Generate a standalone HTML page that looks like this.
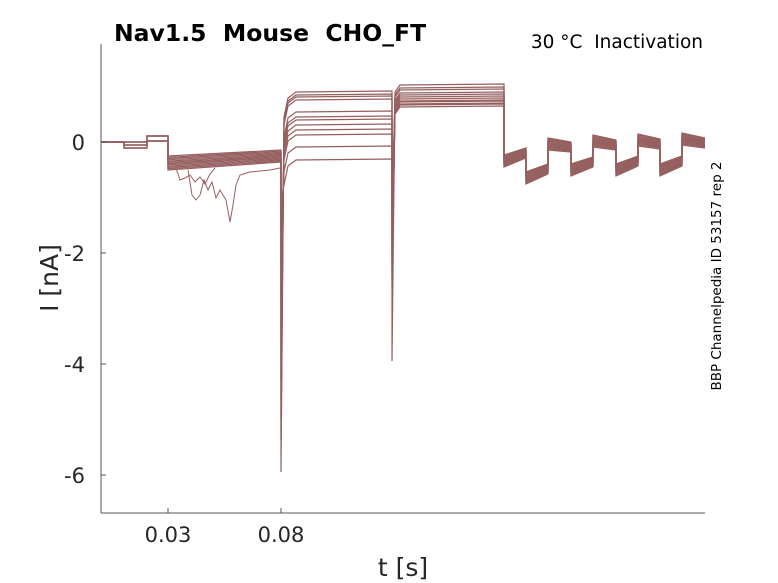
<!DOCTYPE html>
<html><head><meta charset="utf-8"><style>
body{margin:0;background:#fff;}
svg{display:block;font-family:"DejaVu Sans","Liberation Sans",sans-serif;}
</style></head><body>
<svg id="s" width="778" height="583" viewBox="0 0 778 583" xmlns="http://www.w3.org/2000/svg">
<rect width="778" height="583" fill="#fff"/>
<g id="tr" fill="none" stroke="#955f5f" stroke-width="1.2"></g>
<line x1="101" y1="44" x2="101" y2="513" stroke="#555" stroke-width="1"/>
<line x1="101" y1="513" x2="705" y2="513" stroke="#555" stroke-width="1"/>
<g stroke="#555"><line x1="101" y1="142" x2="106" y2="142"/><line x1="101" y1="253" x2="106" y2="253"/><line x1="101" y1="364" x2="106" y2="364"/><line x1="101" y1="475" x2="106" y2="475"/><line x1="168" y1="513" x2="168" y2="508"/><line x1="281" y1="513" x2="281" y2="508"/></g>
<g font-size="21" fill="#262626" text-anchor="end"><text x="85" y="150">0</text><text x="85" y="261">-2</text><text x="85" y="372">-4</text><text x="85" y="483">-6</text></g>
<g font-size="21" fill="#262626" text-anchor="middle"><text x="168" y="542">0.03</text><text x="281" y="542">0.08</text></g>
<text x="403" y="576" font-size="25" fill="#262626" text-anchor="middle">t [s]</text>
<text transform="translate(58,278) rotate(-90)" font-size="25" fill="#262626" text-anchor="middle">I [nA]</text>
<text x="114" y="41" font-size="23.5" font-weight="bold" fill="#000">Nav1.5&#160;&#160;Mouse&#160;&#160;CHO_FT</text>
<text x="703" y="48" font-size="18.5" fill="#000" text-anchor="end">30 °C&#160;&#160;Inactivation</text>
<text transform="translate(721,276) rotate(-90)" font-size="13.5" fill="#000" text-anchor="middle">BBP Channelpedia ID 53157 rep 2</text>
</svg>
<script>
var g=document.getElementById('tr'),h='';
var L2=[92,95,97,100,112,117,120,125,130,135,147,160];
var L3=[84,87,89,92,94,96,98,101,103,106,104,100];
var sp=[472,440,420,400,380,360,330,300,280,250,230,200];
for(var i=0;i<12;i++){
 var f=i/11,p=[];
 var a=142+(i%3==0?6:(i%3==1?3:0)), b=142-(i%2==0?6:1);
 p.push([101,142],[124,142],[124,a],[147,a],[147,b],[168,b],[168,156+f*14],[281,150+f*12]);
 p.push([281,sp[i]],[284,L2[i]+25],[288,L2[i]+6],[296,L2[i]],[392,L2[i]-1]);
 p.push([392,i==0?361:200+i*8],[395,L3[i]+8],[400,L3[i]+1],[504,L3[i]]);
 var st=[[504,526,155,148],[526,548,172,164],[548,571,138,142],[571,593,164,157],[593,616,135,140],[616,638,164,156],[638,660,134,139],[660,682,164,156],[682,705,133,138]];
 st.forEach(function(s){p.push([s[0],s[2]+f*12],[s[1],s[3]+f*10]);});
 h+='<polyline points="'+p.map(function(q){return q[0]+','+q[1].toFixed(1)}).join(' ')+'"/>';
}
h+='<polyline stroke-width="1" points="188,170 192,195 196,200 200,195 204,180 208,190 212,182 216,198 220,190 226,200 230,222 233,205 236,185 240,175 250,172 270,170 280,168"/>';
h+='<polyline stroke-width="1" points="176,168 180,180 185,178 190,175 195,182 200,177 205,184 210,174 215,168"/>';
g.innerHTML=h;
</script>
</body></html>
